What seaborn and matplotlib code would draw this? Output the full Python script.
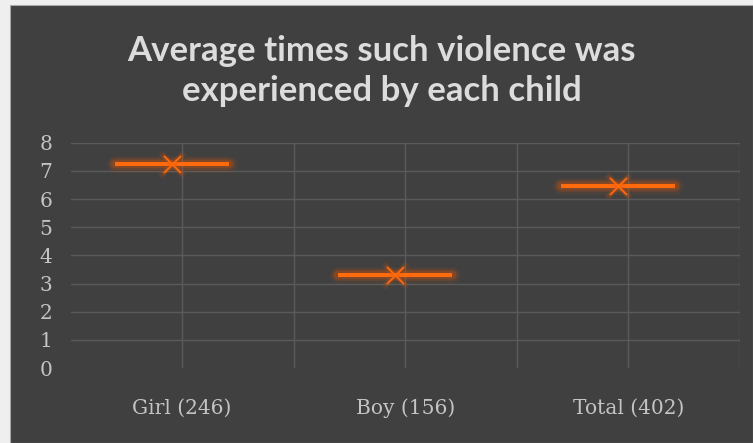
import numpy as np
import pandas as pd
import matplotlib
matplotlib.use("Agg")
import matplotlib.pyplot as plt
from matplotlib.patches import Rectangle
import seaborn as sns

# Data
groups = ["Girl (246)", "Boy (156)", "Total (402)"]
avg_times = [7.24, 3.29, 6.46]
y_ticks = [0, 1, 2, 3, 4, 5, 6, 7, 8]
title = "Average times such violence was\nexperienced by each child"

BG = "#404040"
GRID = "#5a5a5a"
TICK = "#c4c4c4"
TITLE = "#dcdcdc"
ORANGE = "#ff6a0d"

sns.set_theme(style="dark", rc={"axes.facecolor": BG, "figure.facecolor": BG})

W, H = 753, 443
fig = plt.figure(figsize=(W / 100, H / 100), dpi=100)
fig.patch.set_facecolor("#efefef")
fig.add_artist(Rectangle((10 / W, 0), 1 - 10 / W, 1 - 5 / H, transform=fig.transFigure,
                         facecolor=BG, edgecolor="#a8a8a8", lw=0.8, zorder=0))

ax = fig.add_axes([70.5 / W, 1 - 368 / H, (740 - 70.5) / W, (368 - 142.7) / H])
ax.set_facecolor("none")

df = pd.DataFrame({"group": groups, "avg": avg_times})
df["pos"] = np.arange(len(df)) - 0.045
half = 0.255

# gridlines
for y in y_ticks[1:]:
    ax.axhline(y, color=GRID, lw=1.0, zorder=1)
for x in np.arange(0, len(groups) + 0.01, 0.5):
    ax.axvline(x, color=GRID, lw=1.0, zorder=1)

# soft glow under the mean bars
for lw, a in [(12, 0.09), (8.5, 0.16), (6, 0.26)]:
    ax.hlines(df["avg"], df["pos"] - half, df["pos"] + half, color="#d9560c",
              lw=lw, alpha=a, capstyle="round", zorder=2)
ax.hlines(df["avg"], df["pos"] - half, df["pos"] + half, color=ORANGE, lw=2.9, zorder=3)

for s, a, lw in [(300, 0.12, 4.5), (210, 0.22, 3.2)]:
    sns.scatterplot(data=df, x="pos", y="avg", marker="x", s=s, color="#d9560c",
                    alpha=a, linewidth=lw, ax=ax, zorder=3, legend=False)
sns.scatterplot(data=df, x="pos", y="avg", marker="x", s=150, color=ORANGE,
                linewidth=1.3, ax=ax, zorder=4, legend=False)

ax.set_xlim(-0.5, len(groups) - 0.5)
ax.set_ylim(0, 8)
ax.set_xticks(range(len(groups)))
ax.set_xticklabels(groups)
ax.set_yticks(y_ticks)
ax.set_yticklabels([str(t) for t in y_ticks])
ax.set_xlabel("")
ax.set_ylabel("")
ax.grid(False)
for sp in ax.spines.values():
    sp.set_visible(False)
ax.tick_params(axis="both", length=0, colors=TICK)
ax.tick_params(axis="y", pad=13)
ax.tick_params(axis="x", pad=22)
for lab in ax.get_xticklabels() + ax.get_yticklabels():
    lab.set_fontfamily("DejaVu Serif")
    lab.set_fontsize(14.5)
    lab.set_color(TICK)

fig.text(0.507, 1 - 71 / H, title, ha="center", va="center", color=TITLE,
         fontsize=25, fontfamily="Lato", fontweight="bold", linespacing=1.34)

fig.savefig("out.png", dpi=100, facecolor=fig.get_facecolor())
